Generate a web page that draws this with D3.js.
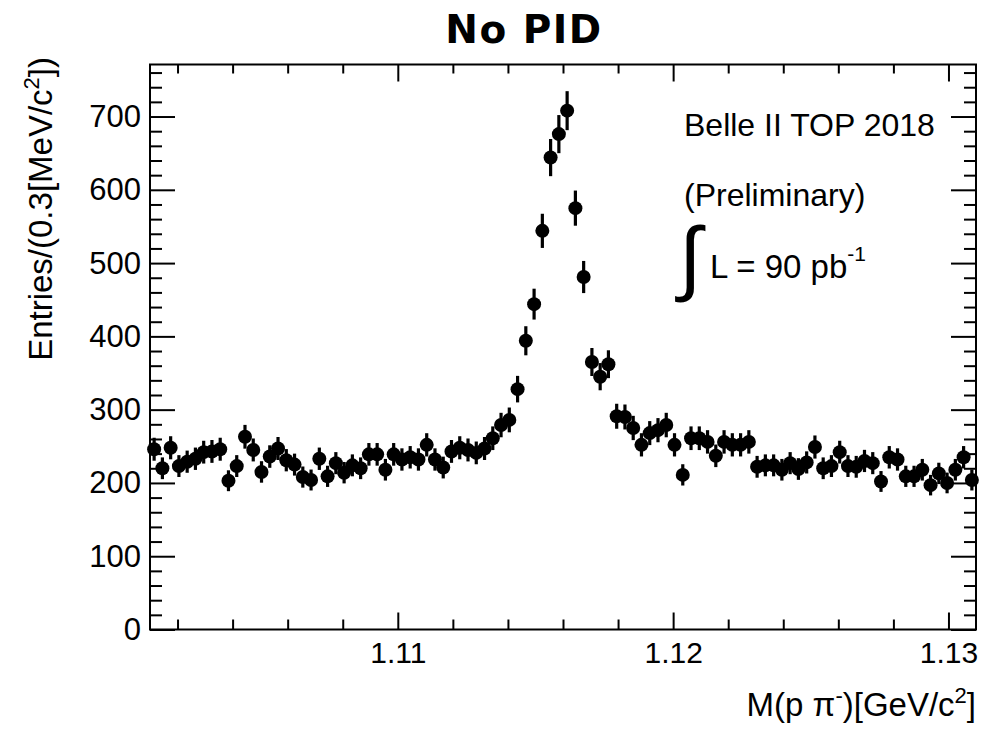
<!DOCTYPE html>
<html>
<head>
<meta charset="utf-8">
<script src="https://cdn.jsdelivr.net/npm/d3@7/dist/d3.min.js"></script>
<style>
  body { margin: 0; background: #fff; }
  svg { display: block; font-family: "Liberation Sans", Arial, sans-serif; }
  .tick text { font-family: "Liberation Sans", Arial, sans-serif; fill: #000; }
</style>
</head>
<body>
<svg id="chart" width="984" height="730"></svg>
<script>
// histogram binning: 100 bins of 0.3 MeV/c2
var histLow = 1.101,
  histHigh = 1.131,
  nBins = 100;

// entries per bin
var entries = [
  246, 220, 248, 223, 229, 233, 242, 243, 246, 203,
  223, 263, 245, 215, 236, 247, 231, 225, 208, 204,
  233, 209, 227, 214, 224, 220, 239, 239, 218, 239,
  232, 235, 232, 252, 232, 221, 243, 248, 245, 241,
  247, 261, 279, 286, 328, 394, 444, 544, 644, 676,
  708, 575, 481, 365, 345, 362, 291, 290, 275, 252,
  268, 272, 279, 252, 211, 261, 261, 256, 237, 256,
  252, 252, 256, 222, 224, 224, 218, 227, 219, 228,
  249, 220, 223, 242, 223, 222, 230, 227, 202, 235,
  232, 209, 209, 218, 197, 213, 200, 218, 235, 204,
];

var xMajorTicks = [1.11, 1.12, 1.13];
var xMinorTicks = [1.102, 1.104, 1.106, 1.108, 1.112, 1.114, 1.116, 1.118,
  1.122, 1.124, 1.126, 1.128];
var yMajorTicks = [0, 100, 200, 300, 400, 500, 600, 700];
var yMinorTicks = [20, 40, 60, 80, 120, 140, 160, 180, 220, 240, 260, 280,
  320, 340, 360, 380, 420, 440, 460, 480, 520, 540, 560, 580,
  620, 640, 660, 680, 720, 740, 760];

var yMax = 771;

// plot frame (note: "top" is reserved on window, so use plot* names)
var plotLeft = 150,
  plotRight = 976,
  plotTop = 64.5,
  plotBottom = 629.5;

var svg = d3.select("#chart");

var x = d3.scaleLinear().domain([histLow, histHigh]).range([plotLeft, plotRight]);
var y = d3.scaleLinear().domain([0, yMax]).range([plotBottom, plotTop]);

var binWidth = (histHigh - histLow) / nBins;

var points = entries.map(function (n, i) {
  return { m: histLow + (i + 0.5) * binWidth, n: n, err: Math.sqrt(n) };
});

// axes, ticks pointing inward like ROOT
function drawAxis(axis, tx, ty, cls) {
  var g = svg.append("g")
    .attr("class", cls)
    .attr("transform", "translate(" + tx + "," + ty + ")")
    .call(axis);
  g.select(".domain").remove();
  g.selectAll(".tick line").attr("stroke", "#000").attr("stroke-width", 2);
  return g;
}

var fmtX = d3.format(".2f");

drawAxis(d3.axisBottom(x).tickValues(xMajorTicks).tickSize(-17).tickPadding(12).tickFormat(fmtX), 0, plotBottom, "xaxis")
  .selectAll("text").style("font-size", "30px");
drawAxis(d3.axisBottom(x).tickValues(xMinorTicks).tickSize(-10).tickFormat(""), 0, plotBottom, "xminor");
drawAxis(d3.axisTop(x).tickValues(xMajorTicks).tickSize(-17).tickFormat(""), 0, plotTop, "xtop");
drawAxis(d3.axisTop(x).tickValues(xMinorTicks).tickSize(-9).tickFormat(""), 0, plotTop, "xtopminor");

drawAxis(d3.axisLeft(y).tickValues(yMajorTicks).tickSize(-25).tickPadding(9), plotLeft, 0, "yaxis")
  .selectAll("text").style("font-size", "31px");
drawAxis(d3.axisLeft(y).tickValues(yMinorTicks).tickSize(-12).tickFormat(""), plotLeft, 0, "yminor");
drawAxis(d3.axisRight(y).tickValues(yMajorTicks).tickSize(-25).tickFormat(""), plotRight, 0, "yright");
drawAxis(d3.axisRight(y).tickValues(yMinorTicks).tickSize(-12).tickFormat(""), plotRight, 0, "yrightminor");

// frame
svg.append("rect")
  .attr("x", plotLeft)
  .attr("y", plotTop)
  .attr("width", plotRight - plotLeft)
  .attr("height", plotBottom - plotTop)
  .attr("fill", "none")
  .attr("stroke", "#000")
  .attr("stroke-width", 2);

// error bars
svg.append("g")
  .selectAll("line")
  .data(points)
  .enter()
  .append("line")
  .attr("x1", function (d) { return x(d.m); })
  .attr("x2", function (d) { return x(d.m); })
  .attr("y1", function (d) { return y(d.n - d.err); })
  .attr("y2", function (d) { return y(d.n + d.err); })
  .attr("stroke", "#000")
  .attr("stroke-width", 3.2);

// markers
svg.append("g")
  .selectAll("circle")
  .data(points)
  .enter()
  .append("circle")
  .attr("cx", function (d) { return x(d.m); })
  .attr("cy", function (d) { return y(d.n); })
  .attr("r", 7)
  .attr("fill", "#000");

// title
svg.append("text")
  .attr("x", 524)
  .attr("y", 43)
  .attr("text-anchor", "middle")
  .style("font-family", "DejaVu Sans")
  .style("font-size", "39px")
  .style("font-weight", "bold")
  .style("letter-spacing", "1.5px")
  .text("No PID");

// x axis title
var xt = svg.append("text")
  .attr("x", 976)
  .attr("y", 716)
  .attr("text-anchor", "end")
  .style("font-size", "33px");
xt.append("tspan").text("M(p \u03c0");
xt.append("tspan").attr("dy", -13).style("font-size", "22px").text("-");
xt.append("tspan").attr("dy", 13).text(")[GeV/c");
xt.append("tspan").attr("dy", -13).style("font-size", "22px").text("2");
xt.append("tspan").attr("dy", 13).text("]");

// y axis title
var yt = svg.append("text")
  .attr("transform", "translate(52,57) rotate(-90)")
  .attr("text-anchor", "end")
  .style("font-size", "33px");
yt.append("tspan").text("Entries/(0.3[MeV/c");
yt.append("tspan").attr("dy", -13).style("font-size", "22px").text("2");
yt.append("tspan").attr("dy", 13).text("])");

// labels
svg.append("text")
  .attr("x", 684)
  .attr("y", 136)
  .style("font-size", "32px")
  .text("Belle II TOP 2018");

svg.append("text")
  .attr("x", 684)
  .attr("y", 206)
  .style("font-size", "32px")
  .text("(Preliminary)");

svg.append("text")
  .attr("x", 679)
  .attr("y", 285)
  .style("font-size", "82px")
  .style("font-family", "Liberation Sans")
  .style("font-weight", "300")
  .text("\u222b");

var lum = svg.append("text")
  .attr("x", 710)
  .attr("y", 278)
  .style("font-size", "33px");
lum.append("tspan").text("L = 90 pb");
lum.append("tspan").attr("dy", -17).style("font-size", "21px").text("-1");
</script>
</body>
</html>
